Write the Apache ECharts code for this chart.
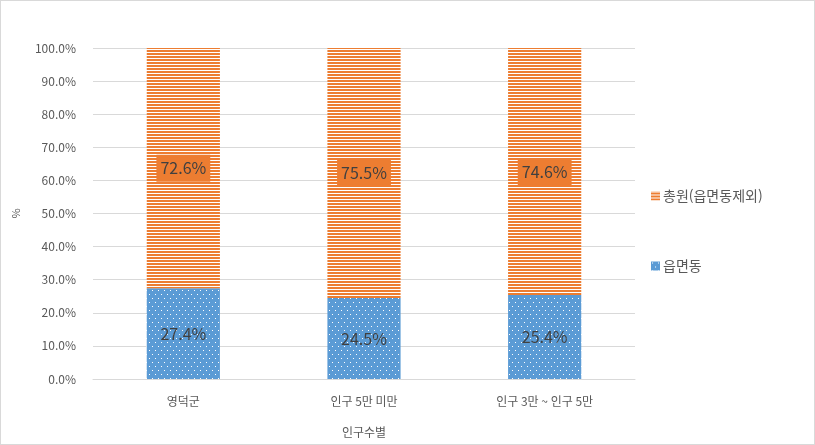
<!DOCTYPE html>
<html lang="ko">
<head>
<meta charset="UTF-8">
<title>인구수별</title>
<script src="https://cdn.jsdelivr.net/npm/echarts@6/dist/echarts.min.js"></script>
<style>
  html, body { margin: 0; padding: 0; background: #fff; }
  #main { width: 813px; height: 443px; border: 1px solid #d9d9d9; }
</style>
</head>
<body>
<div id="main"></div>
<script>
var categories = ['영덕군', '인구 5만 미만', '인구 3만 ~ 인구 5만'];
var eupmyeondong = [27.4, 24.5, 25.4];
var chongwon = [72.6, 75.5, 74.6];
var yTicks = [0, 10, 20, 30, 40, 50, 60, 70, 80, 90, 100];

var ORANGE = '#ED7D31';
var BLUE = '#5B9BD5';

// 가로 줄무늬 (주황)
function stripePattern() {
    var c = document.createElement('canvas');
    c.width = 4; c.height = 3;
    var ctx = c.getContext('2d');
    ctx.fillStyle = ORANGE;
    ctx.fillRect(0, 0, 4, 3);
    ctx.fillStyle = '#ffffff';
    ctx.fillRect(0, 0, 4, 1);
    return c;
}
// 점 무늬 (파랑)
function dotPattern() {
    var c = document.createElement('canvas');
    c.width = 6; c.height = 8;
    var ctx = c.getContext('2d');
    ctx.fillStyle = BLUE;
    ctx.fillRect(0, 0, 6, 8);
    ctx.fillStyle = '#ffffff';
    ctx.fillRect(1, 1, 1, 1);
    ctx.fillRect(4, 5, 1, 1);
    return c;
}

var myChart = echarts.init(document.getElementById('main'));
var option = {
    animation: false,
    textStyle: { fontFamily: '"Noto Sans CJK KR", sans-serif' },
    grid: { left: 92, right: 179, top: 47, bottom: 65, containLabel: false, outerBoundsMode: 'none' },
    legend: {
        orient: 'vertical',
        left: 645,
        top: 183,
        itemGap: 56,
        itemWidth: 9,
        itemHeight: 9,
        icon: 'rect',
        data: ['총원(읍면동제외)', '읍면동'],
        textStyle: { color: '#595959', fontSize: 14, padding: [0, 0, 0, -2] }
    },
    xAxis: {
        type: 'category',
        data: categories,
        name: '인구수별',
        nameLocation: 'middle',
        nameGap: 47,
        nameTextStyle: { color: '#595959', fontSize: 12 },
        axisLine: { lineStyle: { color: '#d9d9d9' } },
        axisTick: { show: false },
        axisLabel: { color: '#595959', fontSize: 12, margin: 16 }
    },
    yAxis: {
        type: 'value',
        min: yTicks[0],
        max: yTicks[yTicks.length - 1],
        interval: 10,
        name: '%',
        nameLocation: 'middle',
        nameGap: 72,
        nameTextStyle: { color: '#595959', fontSize: 11 },
        axisLine: { show: false },
        axisTick: { show: false },
        axisLabel: {
            color: '#595959', fontSize: 12, margin: 17,
            formatter: function (v) { return v.toFixed(1) + '%'; }
        },
        splitLine: { lineStyle: { color: '#d9d9d9' } }
    },
    series: [
        {
            name: '읍면동',
            type: 'bar',
            stack: 'total',
            barWidth: '40.5%',
            data: eupmyeondong,
            itemStyle: { color: { image: dotPattern(), repeat: 'repeat' } },
            label: {
                show: true,
                position: 'inside',
                color: '#404040',
                fontSize: 16,
                formatter: function (p) { return p.value.toFixed(1) + '%'; }
            }
        },
        {
            name: '총원(읍면동제외)',
            type: 'bar',
            stack: 'total',
            data: chongwon,
            itemStyle: { color: { image: stripePattern(), repeat: 'repeat' } },
            label: {
                show: true,
                position: 'inside',
                color: '#404040',
                fontSize: 16,
                backgroundColor: ORANGE,
                padding: [6, 4, 5, 4],
                formatter: function (p) { return p.value.toFixed(1) + '%'; }
            }
        }
    ]
};
myChart.setOption(option);
</script>
</body>
</html>
